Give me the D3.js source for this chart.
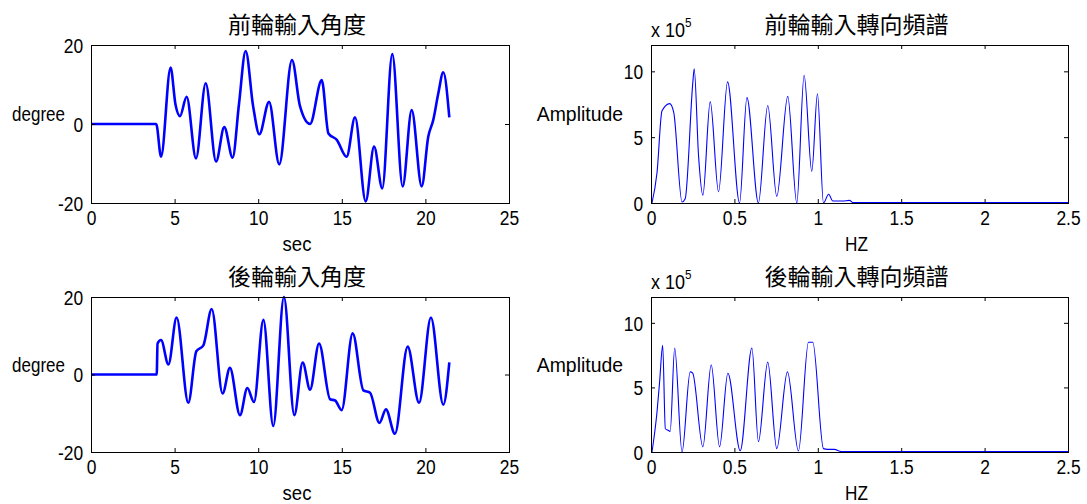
<!DOCTYPE html>
<html>
<head>
<meta charset="utf-8">
<script src="https://cdn.jsdelivr.net/npm/d3@7/dist/d3.min.js"></script>
<style>
  html, body { margin: 0; padding: 0; background: #fff; }
  svg { display: block; }
  .lbl { font-family: "Liberation Sans", Arial, sans-serif; font-size: 20px; fill: #000; }
  .ttl { font-family: "Noto Sans CJK TC", "Noto Sans CJK SC", sans-serif; font-size: 23px; fill: #000; }
</style>
</head>
<body>
<svg id="chart" width="1087" height="504"></svg>
<script>
// Front wheel steering input angle (deg) over time (s)
const frontTime  = [0, 3.9, 4.19, 4.76, 5.05, 5.32, 5.72, 6.28, 6.86, 7.48, 7.97, 8.47, 8.85, 9.25, 9.7, 10.07, 10.65, 11.26, 12.02, 12.5, 13.1, 13.8, 14.2, 14.7, 15.29, 15.79, 16.43, 16.93, 17.42, 18.02, 18.64, 19.18, 19.78, 20.17, 20.47, 20.77, 21.07, 21.43];
const frontAngle = [0, 0, -8.3, 14.3, 5.0, 2.0, 6.9, -8.7, 10.3, -9.5, -0.8, -8.5, 5.0, 18.5, 4.4, -2.6, 5.6, -10.2, 16.2, 4.5, 0.0, 11.1, -2.4, -4.0, -8.3, 1.7, -19.6, -5.7, -16.3, 17.7, -15.8, 3.5, -15.8, -3.2, 1.0, 7.7, 13.1, 1.7];

// Rear wheel steering input angle (deg) over time (s)
const rearTime  = [0, 3.93, 3.98, 4.19, 4.63, 5.12, 5.82, 6.3, 6.72, 7.22, 7.87, 8.31, 8.91, 9.35, 9.75, 10.31, 10.9, 11.54, 12.16, 12.66, 13.1, 13.64, 14.3, 14.6, 14.99, 15.65, 16.29, 16.69, 17.25, 17.64, 18.18, 18.94, 19.62, 20.33, 21.07, 21.43];
const rearAngle = [0, 0, 8.0, 8.9, 2.6, 14.7, -7.3, 6.0, 7.5, 16.9, -4.9, 1.7, -10.5, -3.5, -7.1, 14.1, -13.3, 20.0, -10.5, 3.1, -3.9, 8.0, -6.4, -6.7, -9.2, 10.6, -4.1, -4.7, -12.5, -9.0, -15.3, 7.2, -7.3, 14.7, -7.8, 3.1];

// Front steering spectrum: frequency (Hz) and amplitude (x 10^5)
const frontFreq = [0.006, 0.036, 0.066, 0.112, 0.136, 0.186, 0.205, 0.251, 0.259, 0.285, 0.311, 0.355, 0.405, 0.459, 0.531, 0.575, 0.644, 0.700, 0.754, 0.820, 0.874, 0.918, 0.964, 0.998, 1.034, 1.065, 1.09, 1.15, 1.19, 1.21, 2.5];
const frontAmp  = [0, 2.3, 7.0, 7.55, 6.9, 0.08, 0.33, 9.2, 10.2, 3.6, 0.6, 7.7, 0.85, 9.2, 0.0, 8.0, 0.0, 7.4, 0.5, 8.1, 0.0, 9.7, 2.4, 8.3, 0.0, 0.67, 0.15, 0.15, 0.2, 0.03, 0.03];

// Rear steering spectrum: frequency (Hz) and amplitude (x 10^5)
const rearFreq = [0.006, 0.036, 0.052, 0.070, 0.086, 0.1, 0.115, 0.142, 0.186, 0.235, 0.25, 0.311, 0.361, 0.411, 0.461, 0.535, 0.605, 0.644, 0.700, 0.754, 0.818, 0.884, 0.944, 0.97, 1.034, 1.06, 1.1, 1.14, 2.5];
const rearAmp  = [0, 3.1, 5.5, 8.26, 1.8, 1.7, 1.6, 8.05, 0.0, 6.2, 6.1, 0.4, 6.75, 0.4, 6.1, 0.1, 8.05, 0.8, 6.96, 0.26, 6.2, 0.08, 8.5, 8.5, 0.26, 0.2, 0.2, 0.03, 0.03];

// Axis ticks
const timeTicks  = [0, 5, 10, 15, 20, 25];
const angleTicks = [-20, 0, 20];
const freqTicks  = [0, 0.5, 1, 1.5, 2, 2.5];
const ampTicks   = [0, 5, 10];

const svg = d3.select("#chart");
const TICK_SX = 0.87;   // narrow the tick digits

// text placed at (x, y) and squeezed horizontally by sx
function label(g, x, y, str, anchor, sx) {
  return g.append("text").attr("class", "lbl")
    .attr("transform", `translate(${x},${y}) scale(${sx},1)`)
    .attr("text-anchor", anchor).text(str);
}

const panels = [
  { box: [91, 45, 509, 203],   title: "前輪輸入角度",     xs: frontTime, ys: frontAngle, xDom: [0, 25],  yDom: [-20, 20], xt: timeTicks, yt: angleTicks, xLabel: "sec", yLabel: "degree",    width: 2.6, exp: false },
  { box: [651, 45, 1068, 203], title: "前輪輸入轉向頻譜", xs: frontFreq, ys: frontAmp,   xDom: [0, 2.5], yDom: [0, 12],   xt: freqTicks, yt: ampTicks,   xLabel: "HZ",  yLabel: "Amplitude", width: 1.1, exp: true },
  { box: [91, 297, 509, 452],  title: "後輪輸入角度",     xs: rearTime,  ys: rearAngle,  xDom: [0, 25],  yDom: [-20, 20], xt: timeTicks, yt: angleTicks, xLabel: "sec", yLabel: "degree",    width: 2.6, exp: false },
  { box: [651, 297, 1068, 452], title: "後輪輸入轉向頻譜", xs: rearFreq, ys: rearAmp,    xDom: [0, 2.5], yDom: [0, 12],   xt: freqTicks, yt: ampTicks,   xLabel: "HZ",  yLabel: "Amplitude", width: 1.1, exp: true }
];

const labelScale = { "degree": 0.85, "Amplitude": 0.97, "sec": 0.93, "HZ": 0.86 };

panels.forEach(p => {
  const [x0, y0, x1, y1] = p.box;
  const x = d3.scaleLinear().domain(p.xDom).range([x0, x1]);
  const y = d3.scaleLinear().domain(p.yDom).range([y1, y0]);
  const g = svg.append("g");

  // data line
  const pts = p.xs.map((v, i) => [v, p.ys[i]]);
  const line = d3.line().x(d => x(d[0])).y(d => y(d[1])).curve(d3.curveMonotoneX);
  g.append("path").datum(pts)
    .attr("d", line)
    .attr("fill", "none")
    .attr("stroke", "#0000ff")
    .attr("stroke-width", p.width)
    .attr("stroke-linejoin", "round");

  // axes with inward ticks; the frame is drawn separately
  const fmt = d => String(d);
  const axB = g.append("g").attr("transform", `translate(0,${y1})`)
    .call(d3.axisBottom(x).tickValues(p.xt).tickSize(-4).tickSizeOuter(0).tickPadding(8).tickFormat(fmt));
  const axT = g.append("g").attr("transform", `translate(0,${y0})`)
    .call(d3.axisTop(x).tickValues(p.xt).tickSize(-4).tickSizeOuter(0).tickFormat(""));
  const axL = g.append("g").attr("transform", `translate(${x0},0)`)
    .call(d3.axisLeft(y).tickValues(p.yt).tickSize(-4).tickSizeOuter(0).tickPadding(9).tickFormat(fmt));
  const axR = g.append("g").attr("transform", `translate(${x1},0)`)
    .call(d3.axisRight(y).tickValues(p.yt).tickSize(-4).tickSizeOuter(0).tickFormat(""));
  [axB, axT, axL, axR].forEach(a => {
    a.select(".domain").remove();
    a.selectAll("line").attr("stroke", "#000");
    a.selectAll("text").attr("class", "lbl").attr("font-family", null).attr("font-size", null)
      .attr("transform", `scale(${TICK_SX},1)`);
  });
  axL.selectAll("text").attr("dy", "0.36em");

  g.append("rect")
    .attr("x", x0 + 0.5).attr("y", y0 + 0.5)
    .attr("width", x1 - x0).attr("height", y1 - y0)
    .attr("fill", "none").attr("stroke", "#000").attr("stroke-width", 1);

  // title
  g.append("text").attr("class", "ttl")
    .attr("x", (x0 + x1) / 2 - 3).attr("y", y0 - 12)
    .attr("text-anchor", "middle").text(p.title);

  // axis labels
  label(g, (x0 + x1) / 2 - 3, y1 + 48, p.xLabel, "middle", labelScale[p.xLabel]);
  label(g, x0 - (p.exp ? 28 : 26), (y0 + y1) / 2 - 3, p.yLabel, "end", labelScale[p.yLabel]);

  // exponent marker for spectra
  if (p.exp) {
    const t = label(g, x0, y0 - 8, "", "start", 0.9);
    t.append("tspan").text("x 10");
    t.append("tspan").attr("dy", -10).attr("font-size", 13).text("5");
  }
});
</script>
</body>
</html>
